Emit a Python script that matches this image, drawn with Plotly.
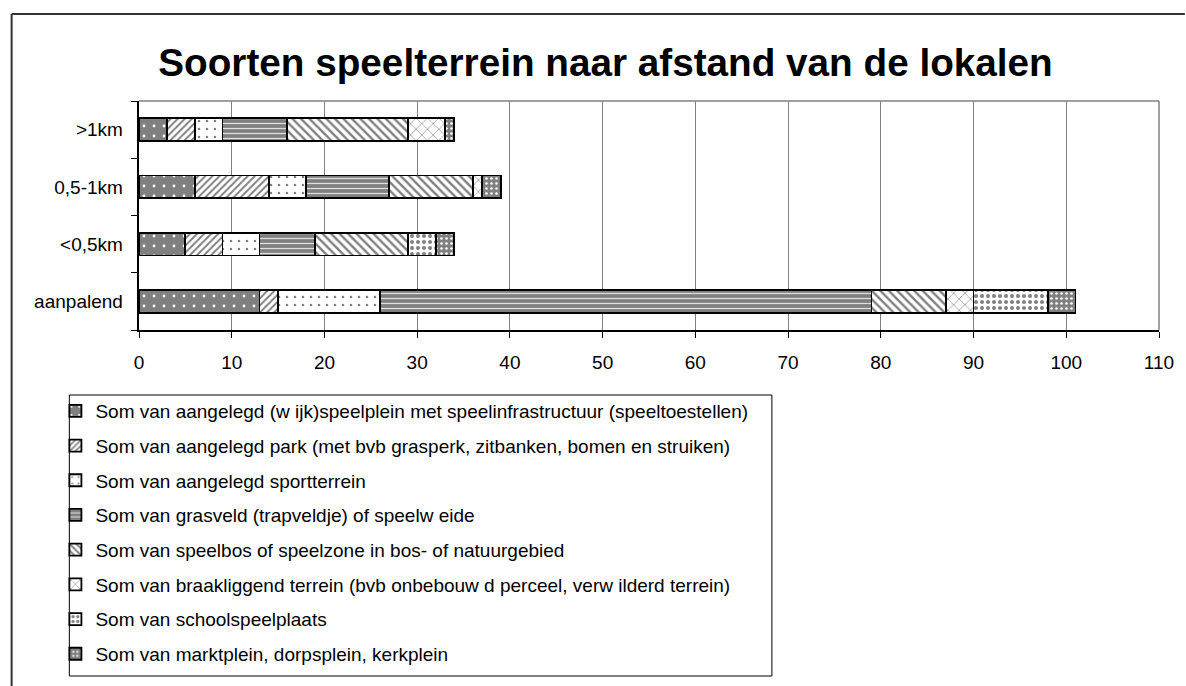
import plotly.graph_objects as go

# ---- data ----
categories = ["aanpalend", "<0,5km", "0,5-1km", ">1km"]
series_names = [
    "Som van aangelegd (w ijk)speelplein met speelinfrastructuur (speeltoestellen)",
    "Som van aangelegd park (met bvb grasperk, zitbanken, bomen en struiken)",
    "Som van aangelegd sportterrein",
    "Som van grasveld (trapveldje) of speelw eide",
    "Som van speelbos of speelzone in bos- of natuurgebied",
    "Som van braakliggend terrein (bvb onbebouw d perceel, verw ilderd terrein)",
    "Som van schoolspeelplaats",
    "Som van marktplein, dorpsplein, kerkplein",
]
speelplein = [13, 5, 6, 3]
park = [2, 4, 8, 3]
sportterrein = [11, 4, 4, 3]
grasveld = [53, 6, 9, 7]
speelbos = [8, 10, 9, 13]
braakliggend = [3, 0, 1, 4]
schoolspeelplaats = [8, 3, 0, 0]
marktplein = [3, 2, 2, 1]
series_values = [speelplein, park, sportterrein, grasveld, speelbos,
                 braakliggend, schoolspeelplaats, marktplein]
x_ticks = list(range(0, 111, 10))

GRAY = "#808080"
patterns = [
    dict(shape=".", bgcolor=GRAY, fgcolor="white", size=10, solidity=0.06, fillmode="replace"),
    dict(shape="/", bgcolor="white", fgcolor=GRAY, size=5, solidity=0.4, fillmode="replace"),
    dict(shape=".", bgcolor="white", fgcolor=GRAY, size=8, solidity=0.08, fillmode="replace"),
    dict(shape="-", bgcolor=GRAY, fgcolor="#e0e0e0", size=5, solidity=0.25, fillmode="replace"),
    dict(shape="\\", bgcolor="white", fgcolor=GRAY, size=6, solidity=0.4, fillmode="replace"),
    dict(shape="x", bgcolor="white", fgcolor=GRAY, size=8, solidity=0.15, fillmode="replace"),
    dict(shape=".", bgcolor="white", fgcolor=GRAY, size=6, solidity=0.35, fillmode="replace"),
    dict(shape=".", bgcolor=GRAY, fgcolor="white", size=5, solidity=0.2, fillmode="replace"),
]

FONT = "Liberation Sans, Arial, sans-serif"
W, H = 1186, 686
PL, PR, PT, PB = 139, 1164, 101, 330  # plot area in pixels


def px(x):
    return (x - PL) / (PR - PL)


def py(y):
    return (PB - y) / (PB - PT)


fig = go.Figure()
for i, (name, vals) in enumerate(zip(series_names, series_values)):
    fig.add_trace(go.Bar(
        y=categories, x=vals, name=name, orientation="h",
        legendgroup=f"g{i}",
        marker=dict(color=GRAY if patterns[i]["bgcolor"] == GRAY else "white",
                    pattern=patterns[i],
                    line=dict(color="black", width=1.8)),
    ))

shapes = [
    # plot area top and right border (gray)
    dict(type="line", xref="paper", yref="paper", x0=0, x1=1, y0=1, y1=1,
         line=dict(color=GRAY, width=1.5), layer="below"),
    dict(type="line", xref="paper", yref="paper", x0=1, x1=1, y0=0, y1=1,
         line=dict(color=GRAY, width=1.5), layer="below"),
    # outer chart frame
    dict(type="line", xref="paper", yref="paper", x0=px(11), x1=px(1190), y0=py(14), y1=py(14),
         line=dict(color="#333333", width=2)),
    dict(type="line", xref="paper", yref="paper", x0=px(11), x1=px(11), y0=py(14), y1=py(690),
         line=dict(color="#333333", width=2)),
    # legend box
    dict(type="rect", xref="paper", yref="paper", x0=px(69), x1=px(775), y0=py(395), y1=py(676),
         line=dict(color="black", width=1), fillcolor="white", layer="below"),
]

fig.update_layout(
    width=W, height=H,
    margin=dict(l=PL, r=W - PR, t=PT, b=H - PB),
    paper_bgcolor="white", plot_bgcolor="white",
    barmode="stack", bargap=0.6,
    font=dict(family=FONT, color="black", size=19),
    title=dict(text="<b>Soorten speelterrein naar afstand van de lokalen</b>",
               xref="container", yref="container", x=605.5 / W, y=1 - 62 / H,
               xanchor="center", yanchor="middle",
               font=dict(family=FONT, size=38.7, color="black")),
    xaxis=dict(range=[0, 110], tickvals=x_ticks, showgrid=True, gridcolor=GRAY, gridwidth=1,
               showline=True, linecolor="black", linewidth=1.5, ticks="outside",
               ticklen=6, tickcolor="black", tickfont=dict(size=19), zeroline=False,
               ticklabelstandoff=8),
    yaxis=dict(showline=True, linecolor="black", linewidth=1.5, ticks="outside",
               tickson="boundaries", ticklen=6, tickcolor="black", showgrid=False,
               tickfont=dict(size=19), ticksuffix="  "),
    legend=dict(x=px(55), y=py(392), xanchor="left", yanchor="top",
                bgcolor="rgba(0,0,0,0)", borderwidth=0, traceorder="grouped",
                tracegroupgap=7, font=dict(size=19, family=FONT)),
    shapes=shapes,
    showlegend=True,
)

fig.write_html(
    "out.html",
    config={"displayModeBar": False},
    post_script="document.body.style.margin='0';document.body.style.overflow='hidden';",
)
